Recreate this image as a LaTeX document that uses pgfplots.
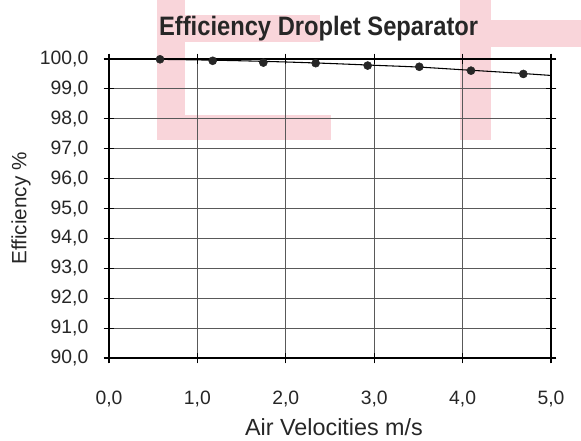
\documentclass[border=0pt]{standalone}
\usepackage{pgfplots}
\pgfplotsset{compat=1.18}
\usepackage{fontspec}
\setmainfont{Liberation Sans}
\newfontfamily\titlefont{Liberation Sans}[FakeStretch=0.89]
\definecolor{wm}{RGB}{249,213,218}
\begin{document}
\begin{tikzpicture}
\begin{scope}[x=0.75pt,y=0.75pt]
\path[use as bounding box] (-109,-77) rectangle (472,358);
% watermark (pixel coords relative to axis lower-left corner)
\fill[wm] (48,358) rectangle (76,218);
\fill[wm] (76,243) rectangle (222,218);
\fill[wm] (76,343) rectangle (211,316);
\fill[wm] (351,358) rectangle (382,218);
\fill[wm] (382,338) rectangle (472,311);
\end{scope}
\begin{axis}[
  at={(0,0)}, anchor=south west,
  scale only axis, width=331.5pt, height=224.25pt,
  xmin=0, xmax=5, ymin=90, ymax=100,
  xtick={0,1,...,5}, ytick={90,91,...,100},
  grid=major,
  major grid style={draw=black!65, line width=0.6pt},
  axis line style={line width=1.2pt},
  tick align=center,
  major tick length=8pt,
  tick style={black, line width=0.8pt},
  /pgf/number format/.cd, use comma, fixed, fixed zerofill, precision=1, assume math mode=true,
  /pgfplots/.cd,
  ticklabel style={font=\fontsize{14.5}{16}\selectfont, text=black!85},
  xticklabel style={yshift=-17pt},
  yticklabel style={xshift=-8pt},
  xlabel={Air Velocities m/s},
  ylabel={Efficiency \%},
  xlabel style={font=\fontsize{17.5}{19}\selectfont, text=black!85, yshift=-2pt, xshift=3pt},
  ylabel style={font=\fontsize{15.5}{17}\selectfont, text=black!85, yshift=0pt},
  title={\titlefont\bfseries Efficiency Droplet Separator},
  title style={font=\fontsize{20}{22}\selectfont, text=black!85, yshift=4pt, xshift=-8.5pt},
  clip=false,
]
\addplot[black, line width=0.8pt, smooth] coordinates {
(0,100.0) (0.5,99.99) (1,99.97) (1.5,99.94) (2,99.90) (2.5,99.85) (3,99.79) (3.5,99.73) (4,99.64) (4.5,99.55) (5,99.45)};
\addplot[only marks, mark=*, mark size=3pt, black!85] coordinates {
(0.577,99.99) (1.173,99.94) (1.746,99.88) (2.338,99.86) (2.926,99.78) (3.51,99.74) (4.095,99.61) (4.687,99.50)};
\end{axis}
\end{tikzpicture}
\end{document}
